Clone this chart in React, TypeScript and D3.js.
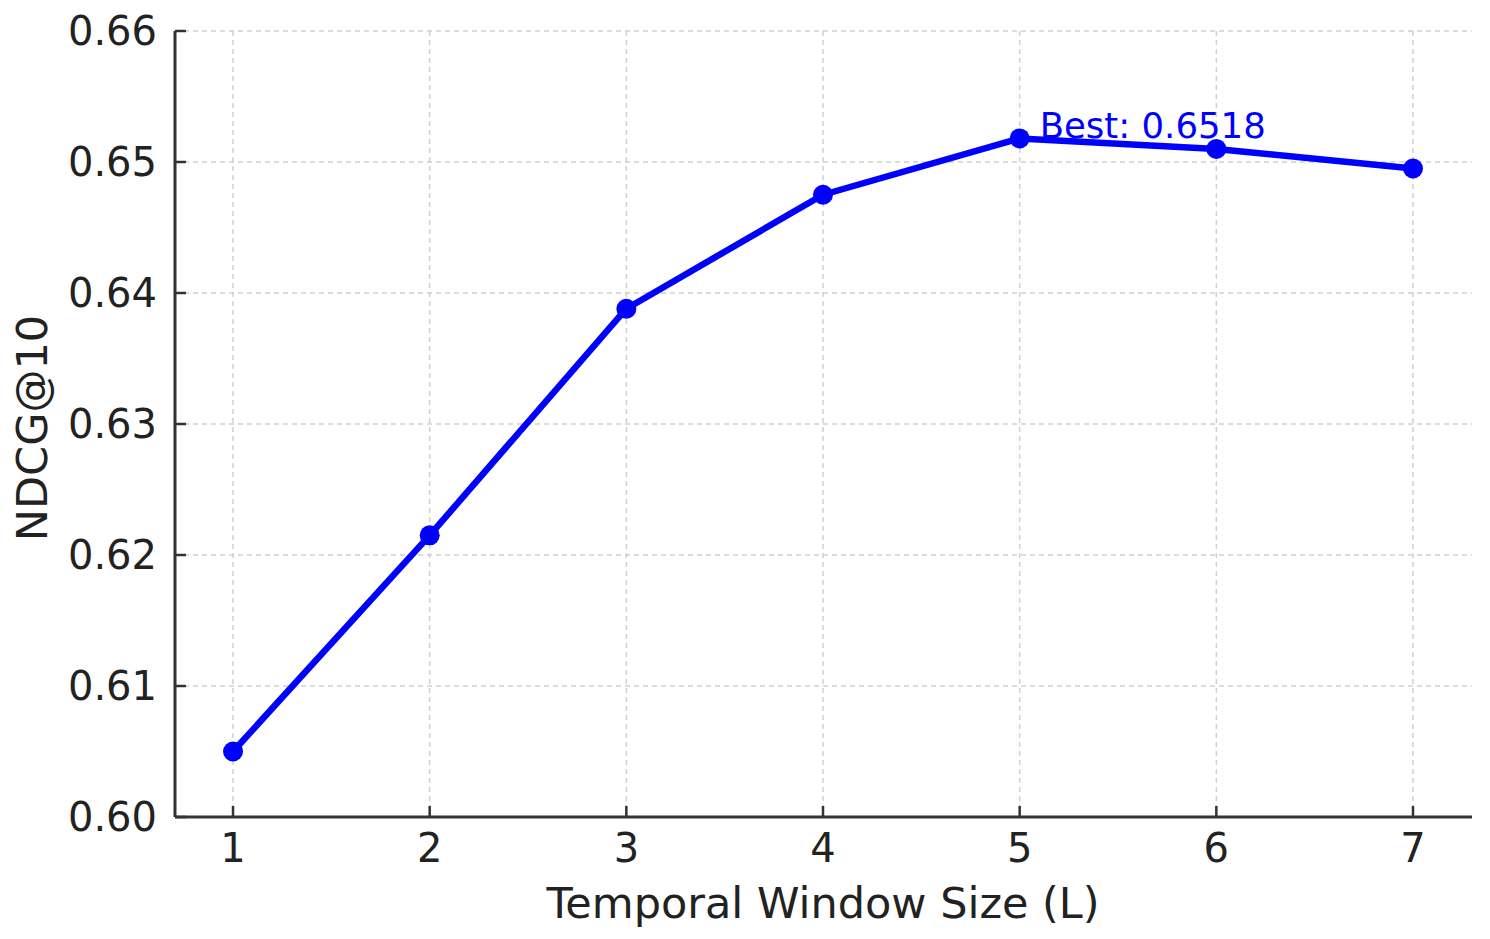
import React from 'react';
import * as d3 from 'd3';

const windowSizes = [1, 2, 3, 4, 5, 6, 7];
const ndcgValues = [0.605, 0.6215, 0.6388, 0.6475, 0.6518, 0.651, 0.6495];
const yTicks = [0.6, 0.61, 0.62, 0.63, 0.64, 0.65, 0.66];
const bestLabel = 'Best: 0.6518';

const W = 1490;
const H = 939;
const margin = { top: 31, right: 18, bottom: 122, left: 175 };
const font = '"DejaVu Sans", sans-serif';

export default function App() {
  const innerW = W - margin.left - margin.right;
  const innerH = H - margin.top - margin.bottom;

  const x = d3.scaleLinear().domain([0.705, 7.3]).range([0, innerW]);
  const y = d3.scaleLinear().domain([0.6, 0.66]).range([innerH, 0]);

  const line = d3.line<number>()
    .x((d, i) => x(windowSizes[i]))
    .y(d => y(d));

  const bestIdx = ndcgValues.indexOf(d3.max(ndcgValues) as number);

  return (
    <svg width={W} height={H} style={{ position: 'absolute', left: 0, top: 0, background: '#fff' }}>
      <g transform={`translate(${margin.left},${margin.top})`}>
        {/* grid */}
        {windowSizes.map(v => (
          <line key={'gx' + v} x1={x(v)} x2={x(v)} y1={0} y2={innerH}
            stroke="#d0d0d0" strokeWidth={1.5} strokeDasharray="5,4" />
        ))}
        {yTicks.map(v => (
          <line key={'gy' + v} x1={0} x2={innerW} y1={y(v)} y2={y(v)}
            stroke="#d0d0d0" strokeWidth={1.5} strokeDasharray="5,4" />
        ))}

        {/* spines */}
        <line x1={0} x2={0} y1={0} y2={innerH} stroke="#333" strokeWidth={3} />
        <line x1={0} x2={innerW} y1={innerH} y2={innerH} stroke="#333" strokeWidth={3} />

        {/* x ticks */}
        {windowSizes.map(v => (
          <g key={'tx' + v} transform={`translate(${x(v)},${innerH})`}>
            <line y1={0} y2={-11} stroke="#333" strokeWidth={2.5} />
            <text y={45} textAnchor="middle" fontFamily={font} fontSize={40} fill="#222">{v}</text>
          </g>
        ))}

        {/* y ticks */}
        {yTicks.map(v => (
          <g key={'ty' + v} transform={`translate(0,${y(v)})`}>
            <line x1={0} x2={11} stroke="#333" strokeWidth={2.5} />
            <text x={-18} dy="0.35em" textAnchor="end" fontFamily={font} fontSize={40} fill="#222">
              {d3.format('.2f')(v)}
            </text>
          </g>
        ))}

        {/* series */}
        <path d={line(ndcgValues) || ''} fill="none" stroke="#0000ff" strokeWidth={6.5} strokeLinejoin="round" />
        {ndcgValues.map((v, i) => (
          <circle key={'p' + i} cx={x(windowSizes[i])} cy={y(v)} r={10} fill="#0000ff" />
        ))}

        <text x={x(windowSizes[bestIdx]) + 20} y={y(ndcgValues[bestIdx]) - 0}
          fontFamily={font} fontSize={35.5} fill="#0000ff">{bestLabel}</text>

        {/* axis labels */}
        <text x={(x(1) + x(7)) / 2} y={innerH + 101} textAnchor="middle" fontFamily={font} fontSize={43} fill="#222">
          Temporal Window Size (L)
        </text>
        <text transform={`translate(${-128},${y(0.63) + 4}) rotate(-90)`} textAnchor="middle"
          fontFamily={font} fontSize={43} fill="#222">NDCG@10</text>
      </g>
    </svg>
  );
}
